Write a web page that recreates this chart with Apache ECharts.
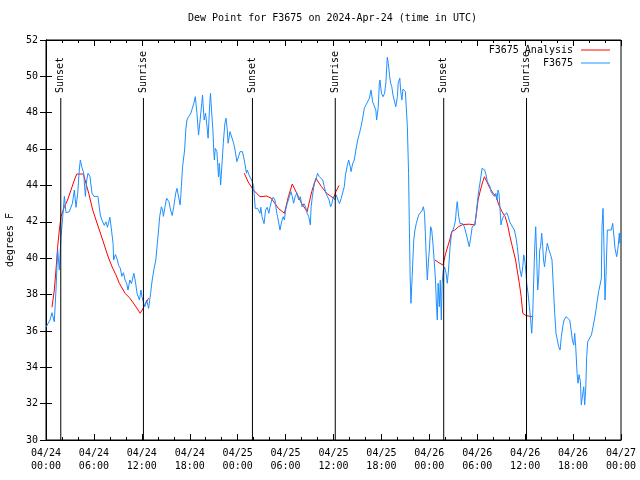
<!DOCTYPE html>
<html>
<head>
<meta charset="utf-8">
<script src="https://cdn.jsdelivr.net/npm/echarts@6/dist/echarts.min.js"></script>
<style>html,body{margin:0;padding:0;background:#fff}#c{width:640px;height:480px}</style>
</head>
<body>
<div id="c"></div>
<script>
const titleText = 'Dew Point for F3675 on 2024-Apr-24 (time in UTC)';
const xTickLabels = ['04/24\n00:00','04/24\n06:00','04/24\n12:00','04/24\n18:00','04/25\n00:00','04/25\n06:00','04/25\n12:00','04/25\n18:00','04/26\n00:00','04/26\n06:00','04/26\n12:00','04/26\n18:00','04/27\n00:00'];

// hours since 2024-04-24 00:00 UTC
const obsHours = [0.0,0.2,0.5,0.75,1.04,1.25,1.46,1.67,1.88,2.1,2.3,2.5,2.9,3.1,3.3,3.55,3.76,3.97,4.17,4.3,4.5,4.72,4.93,5.1,5.26,5.5,5.76,6.0,6.2,6.5,6.8,7.0,7.3,7.5,7.7,8.0,8.2,8.4,8.47,8.7,8.9,9.1,9.3,9.5,9.7,9.9,10.1,10.27,10.5,10.7,11.0,11.2,11.4,11.7,11.9,12.0,12.36,12.6,12.85,13.1,13.3,13.5,13.75,13.94,14.1,14.23,14.45,14.6,14.7,14.9,15.1,15.4,15.6,15.8,16.0,16.24,16.4,16.6,16.8,16.9,17.1,17.36,17.5,17.65,17.85,18.1,18.3,18.5,18.7,18.9,19.1,19.3,19.5,19.6,19.8,19.98,20.16,20.3,20.5,20.6,20.75,20.9,21.0,21.08,21.2,21.4,21.6,21.7,21.87,22.1,22.2,22.4,22.54,22.7,22.8,23.04,23.3,23.5,23.67,23.9,24.1,24.3,24.6,24.9,25.1,25.2,25.42,25.6,25.84,26.0,26.2,26.3,26.4,26.5,26.8,26.9,27.05,27.3,27.5,27.7,27.9,28.05,28.26,28.45,28.67,28.9,29.0,29.2,29.3,29.5,29.7,29.85,30.0,30.2,30.5,30.67,30.85,31.0,31.2,31.4,31.64,31.85,32.06,32.3,32.5,32.7,32.9,33.1,33.2,33.35,33.6,33.8,34.0,34.2,34.4,34.65,34.85,35.05,35.25,35.45,35.64,35.8,35.98,36.15,36.35,36.56,36.75,36.97,37.2,37.35,37.5,37.7,37.9,38.1,38.2,38.4,38.6,38.8,39.03,39.25,39.45,39.65,39.86,40.07,40.3,40.5,40.7,40.8,40.9,41.1,41.3,41.4,41.6,41.74,41.82,42.0,42.2,42.4,42.57,42.66,42.74,42.87,43.03,43.16,43.3,43.45,43.6,43.8,44.0,44.1,44.3,44.4,44.56,44.7,44.85,45.0,45.16,45.25,45.4,45.5,45.6,45.7,45.85,46.05,46.2,46.37,46.5,46.66,46.87,47.13,47.25,47.4,47.5,47.63,47.75,47.9,48.0,48.17,48.3,48.45,48.6,48.77,48.9,49.0,49.1,49.25,49.37,49.5,49.6,49.75,49.92,50.1,50.25,50.4,50.6,50.78,50.95,51.1,51.28,51.4,51.5,51.67,51.84,52.0,52.17,52.38,52.6,52.8,53.0,53.2,53.37,53.5,53.7,53.87,54.05,54.2,54.4,54.6,54.76,54.93,55.1,55.27,55.43,55.6,55.72,55.93,56.13,56.34,56.47,56.6,56.72,56.85,56.97,57.1,57.26,57.47,57.68,57.89,58.06,58.27,58.48,58.65,58.86,59.02,59.19,59.36,59.53,59.7,59.82,59.95,60.07,60.19,60.36,60.53,60.69,60.82,60.95,61.07,61.2,61.32,61.45,61.57,61.7,61.82,61.93,62.07,62.2,62.3,62.43,62.6,62.77,62.98,63.19,63.36,63.53,63.7,63.86,64.03,64.2,64.37,64.53,64.7,64.87,65.12,65.37,65.58,65.75,65.91,66.08,66.2,66.33,66.5,66.62,66.75,66.92,67.03,67.16,67.33,67.45,67.58,67.7,67.83,68.08,68.3,68.5,68.7,68.87,69.04,69.2,69.37,69.54,69.62,69.75,69.87,70.0,70.12,70.29,70.54,70.79,70.96,71.12,71.25,71.46,71.62,71.79,71.87,71.95];
const obsValues = [36.2,36.3,36.6,37.0,36.5,38.25,40.45,39.35,41.2,42.3,43.4,42.5,42.55,42.5,43.0,43.75,42.8,43.57,44.85,45.4,45.0,44.67,43.4,44.3,44.67,44.5,43.57,43.4,43.4,43.4,42.37,42.1,41.8,42.0,41.7,42.25,41.55,40.8,39.9,40.2,39.95,39.6,39.45,39.0,39.2,38.8,38.62,38.25,38.8,38.6,39.17,38.7,38.07,37.7,38.25,37.9,37.33,37.7,37.24,38.07,38.8,39.35,39.9,40.8,41.55,42.28,42.83,42.65,42.3,42.83,43.3,43.1,42.65,42.35,42.83,43.57,43.84,43.75,42.93,43.57,45.03,45.95,47.05,47.6,47.78,47.93,47.9,48.5,48.88,47.97,46.77,47.6,48.5,48.97,47.6,47.97,47.23,46.6,48.5,49.07,47.97,47.05,45.95,45.4,46.04,45.86,44.48,45.22,44.03,44.03,46.32,47.42,47.7,47.05,46.32,46.96,46.6,46.32,45.95,45.31,45.58,45.86,45.86,45.22,44.67,44.85,44.58,44.67,44.2,43.93,42.74,42.8,42.65,42.74,42.47,42.8,42.28,41.9,42.65,42.8,42.47,42.8,43.2,43.35,43.2,42.47,42.28,42.19,41.55,42.0,42.28,42.1,42.65,43.0,43.4,43.66,43.38,43.02,43.38,43.57,43.2,43.38,42.83,43.0,42.83,42.47,42.28,41.83,42.83,43.38,44.12,44.3,44.67,44.5,44.4,44.3,43.93,43.57,43.38,43.2,42.83,43.0,43.38,43.2,43.48,43.2,43.0,43.3,43.38,43.93,44.58,45.03,45.4,45.03,44.76,45.2,45.4,45.95,46.5,46.87,47.23,47.7,48.24,48.43,48.5,48.8,49.25,49.35,48.6,48.5,48.15,47.6,48.3,49.62,49.8,49.07,48.88,49.07,49.71,50.53,51.05,50.7,49.99,49.62,49.43,48.97,48.7,48.33,48.88,49.62,49.9,49.25,48.7,49.3,49.25,49.16,49.07,47.23,44.67,41.73,38.98,37.52,38.98,41.0,41.55,41.92,42.0,42.37,42.47,42.65,42.83,42.47,41.37,39.9,38.8,39.9,40.45,41.73,41.55,40.82,39.9,38.8,37.33,36.6,38.62,37.33,38.8,36.6,38.62,39.35,39.5,39.17,38.62,39.35,40.63,41.37,41.55,41.73,42.1,42.83,43.11,42.3,41.9,42.0,41.9,41.73,41.37,41.0,40.63,41.2,41.73,41.83,41.83,42.47,43.2,43.75,44.3,44.94,45.0,44.85,44.58,44.2,44.12,43.93,43.66,43.57,43.4,43.57,43.2,43.75,43.57,42.74,41.83,42.1,42.28,42.37,42.5,42.28,42.0,41.83,41.73,41.55,41.1,40.63,39.9,39.35,38.98,39.53,40.18,39.9,39.35,38.62,38.07,37.33,36.6,35.87,36.97,38.8,40.63,41.73,39.9,38.25,38.98,40.45,40.63,41.37,40.63,39.9,39.53,40.27,40.82,40.45,40.18,39.9,38.43,36.97,35.87,35.5,35.13,34.95,35.68,36.23,36.6,36.78,36.88,36.6,36.05,35.5,35.22,35.87,35.13,33.67,33.12,33.6,33.2,31.93,32.38,32.93,31.93,32.75,34.58,35.4,35.5,35.78,36.23,36.7,37.16,37.7,38.16,38.52,38.9,41.73,42.74,40.63,37.7,38.98,41.55,41.55,41.55,41.92,41.18,40.55,40.08,40.55,41.37,40.82,41.4];

// analysis (null = gap)
const anaHours = [0.75,1.04,1.25,1.46,1.67,1.88,2.3,2.7,3.13,3.55,3.85,4.68,5.0,5.35,5.85,6.26,6.68,7.1,7.5,7.93,8.35,8.76,9.18,9.9,10.5,11.1,11.8,12.15,12.6,12.85,
  18.0,
  24.83,25.3,25.97,26.8,27.6,28.2,29.1,29.85,30.35,30.84,31.4,32.0,32.7,33.27,33.8,34.5,35.15,36.0,36.3,36.7,
  42.0,
  48.7,49.2,49.7,50.05,50.55,50.8,51.2,51.65,52.17,53.0,53.7,53.9,54.1,54.4,54.68,54.9,55.2,55.6,56.0,56.35,56.7,57.1,57.5,57.8,58.1,58.4,58.8,59.06,59.27,59.5,59.7,60.1,60.9];
const anaValues = [37.3,38.25,39.35,40.63,41.55,42.28,42.83,43.2,43.75,44.3,44.63,44.63,44.12,43.57,42.65,42.1,41.55,41.0,40.45,39.9,39.45,39.08,38.62,38.07,37.8,37.43,36.97,37.24,37.6,37.8,
  null,
  44.67,44.2,43.75,43.38,43.42,43.3,42.74,42.47,43.38,44.08,43.57,43.02,42.56,43.66,44.39,43.93,43.57,43.3,43.66,44.0,
  null,
  39.9,39.75,39.62,40.27,41.0,41.46,41.55,41.73,41.85,41.87,41.83,42.47,43.2,43.75,44.2,44.48,44.2,43.84,43.57,43.4,42.93,42.56,42.28,41.83,41.18,40.63,39.9,39.17,38.62,37.88,36.97,36.84,36.78];

const sunHours = [1.85, 12.2, 25.85, 36.22, 49.8, 60.17];
const sunLabels = ['Sunset','Sunrise','Sunset','Sunrise','Sunset','Sunrise'];

const FONT = 'DejaVu Sans Mono';
const zip = (a, b) => a.map((h, i) => [h, b[i] === null ? '-' : b[i]]);

const chart = echarts.init(document.getElementById('c'), null, {renderer: 'canvas'});
const axisCommon = {
  type: 'value', min: 0, max: 72, interval: 6,
  axisLine: {show: true, lineStyle: {color: '#000', width: 1}},
  axisTick: {show: true, inside: true, length: 6, lineStyle: {color: '#000'}},
  minorTick: {show: true, splitNumber: 3, length: 3, lineStyle: {color: '#000'}},
  splitLine: {show: false}
};
const legendCommon = {
  orient: 'vertical', align: 'right', right: 30, padding: 0,
  icon: 'rect', itemWidth: 29, itemHeight: 1,
  textStyle: {fontFamily: FONT, fontSize: 10, color: '#000', padding: [0, 3, 0, 0]}
};
chart.setOption({
  animation: false,
  backgroundColor: '#fff',
  title: {
    text: titleText, left: 188, top: 13, padding: 0,
    textStyle: {fontFamily: FONT, fontSize: 10, fontWeight: 'normal', color: '#000'}
  },
  legend: [
    Object.assign({}, legendCommon, {data: ['F3675 Analysis'], top: 45}),
    Object.assign({}, legendCommon, {data: ['F3675'], top: 58})
  ],
  grid: {left: 46, right: 19, top: 40, bottom: 40, outerBoundsMode: 'none', containLabel: false,
         show: true, borderColor: '#000', borderWidth: 1, backgroundColor: 'transparent'},
  xAxis: [
    Object.assign({}, axisCommon, {
      position: 'bottom',
      axisLabel: {
        color: '#000', fontFamily: FONT, fontSize: 10, lineHeight: 13, margin: 7,
        formatter: v => xTickLabels[Math.round(v / 6)] || ''
      }
    }),
    Object.assign({}, axisCommon, {position: 'top', axisLabel: {show: false}})
  ],
  yAxis: [
    {type: 'value', min: 30, max: 52, interval: 2, position: 'left',
     name: 'degrees F', nameLocation: 'middle', nameGap: 31,
     nameTextStyle: {fontFamily: FONT, fontSize: 10, color: '#000'},
     axisLine: {show: true, lineStyle: {color: '#000'}},
     axisTick: {show: true, inside: true, length: 6, lineStyle: {color: '#000'}},
     axisLabel: {color: '#000', fontFamily: FONT, fontSize: 10, margin: 8},
     splitLine: {show: false}},
    {type: 'value', min: 30, max: 52, interval: 2, position: 'right',
     axisLine: {show: true, lineStyle: {color: '#000'}},
     axisTick: {show: true, inside: true, length: 6, lineStyle: {color: '#000'}},
     axisLabel: {show: false}, splitLine: {show: false}}
  ],
  series: [
    {
      name: 'F3675 Analysis', type: 'line', xAxisIndex: 0, yAxisIndex: 0,
      data: zip(anaHours, anaValues), symbol: 'none', connectNulls: false,
      lineStyle: {color: '#ff0000', width: 1}, itemStyle: {color: '#ff0000'}, z: 3
    },
    {
      name: 'F3675', type: 'line', xAxisIndex: 0, yAxisIndex: 0,
      data: zip(obsHours, obsValues), symbol: 'none',
      lineStyle: {color: '#1e8fff', width: 1}, itemStyle: {color: '#1e8fff'}, z: 4
    },
    {
      name: 'sun', type: 'custom', xAxisIndex: 0, yAxisIndex: 0, z: 5, silent: true,
      data: sunHours.map((h, i) => [h, i]),
      renderItem: function (params, api) {
        const h = api.value(0);
        const idx = api.value(1);
        const bottom = api.coord([h, 30]);
        const topPx = api.coord([h, 52])[1];
        return {
          type: 'group',
          children: [
            {type: 'line', shape: {x1: bottom[0], y1: topPx + 58, x2: bottom[0], y2: bottom[1]},
             style: {stroke: '#000', lineWidth: 1}},
            {type: 'text', x: bottom[0], y: topPx + 53, rotation: Math.PI / 2,
             style: {text: sunLabels[idx], fill: '#000', font: '10px "DejaVu Sans Mono"', align: 'left', verticalAlign: 'middle'}}
          ]
        };
      }
    }
  ]
});
</script>
</body>
</html>
